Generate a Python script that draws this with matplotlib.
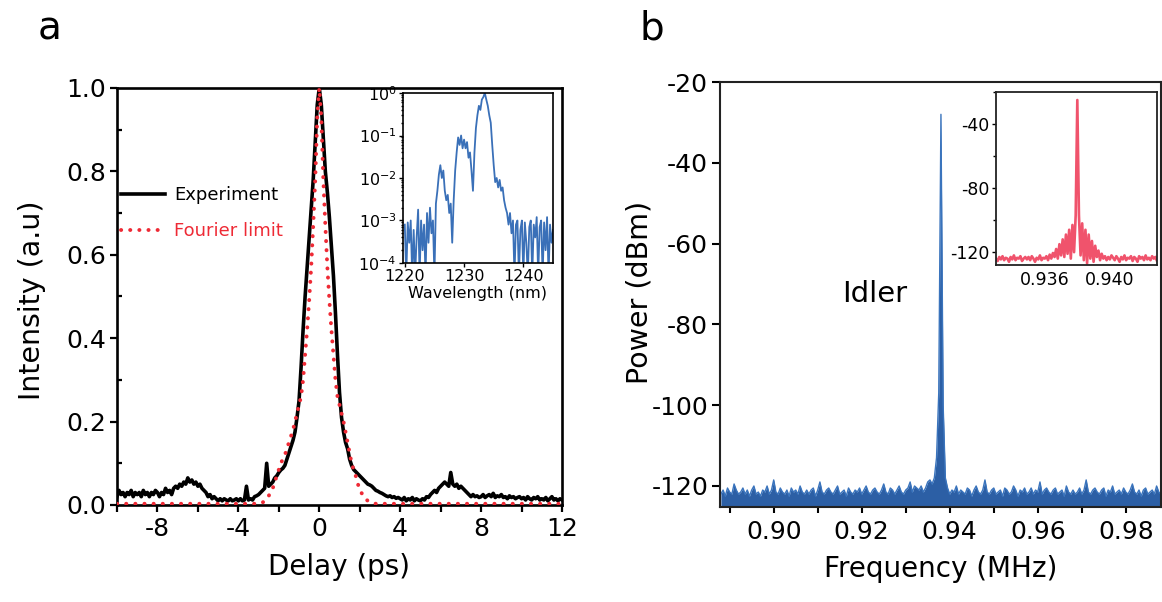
import numpy as np
import matplotlib
matplotlib.use("Agg")
import matplotlib.pyplot as plt
from matplotlib.ticker import MultipleLocator, FormatStrFormatter, LogLocator, NullFormatter

plt.rcParams['font.family'] = ['DejaVu Sans']
plt.rcParams['axes.unicode_minus'] = False

# ---------------- Panel a data ----------------
delay_ps = np.round(np.linspace(-10, 12, 221), 2)
intensity = [
    0.02, 0.035, 0.025, 0.03, 0.02, 0.03, 0.025, 0.035, 0.02, 0.03,
    0.025, 0.03, 0.02, 0.035, 0.025, 0.03, 0.02, 0.03, 0.025, 0.035,
    0.03, 0.02, 0.03, 0.025, 0.04, 0.03, 0.035, 0.025, 0.04, 0.045,
    0.04, 0.05, 0.045, 0.055, 0.05, 0.065, 0.055, 0.06, 0.05, 0.055,
    0.045, 0.05, 0.04, 0.035, 0.03, 0.02, 0.025, 0.015, 0.02, 0.015,
    0.01, 0.015, 0.01, 0.015, 0.012, 0.01, 0.015, 0.01, 0.012, 0.015,
    0.01, 0.015, 0.01, 0.012, 0.045, 0.012, 0.015, 0.012, 0.02, 0.022,
    0.025, 0.03, 0.035, 0.04, 0.1, 0.045, 0.05, 0.055, 0.065, 0.07,
    0.078, 0.084, 0.088, 0.095, 0.11, 0.125, 0.14, 0.155, 0.175, 0.21,
    0.25, 0.33, 0.42, 0.5, 0.57, 0.64, 0.71, 0.78, 0.87, 0.96,
    1.0, 0.96, 0.88, 0.8, 0.75, 0.69, 0.62, 0.55, 0.46, 0.36,
    0.27, 0.21, 0.175, 0.15, 0.135, 0.11, 0.095, 0.085, 0.08, 0.075,
    0.07, 0.065, 0.06, 0.055, 0.05, 0.048, 0.045, 0.04, 0.035, 0.033,
    0.03, 0.028, 0.025, 0.022, 0.02, 0.022, 0.018, 0.02, 0.016, 0.018,
    0.015, 0.012, 0.018, 0.01, 0.015, 0.012, 0.018, 0.01, 0.015, 0.012,
    0.01, 0.015, 0.012, 0.02, 0.018, 0.025, 0.03, 0.035, 0.03, 0.04,
    0.045, 0.05, 0.055, 0.05, 0.045, 0.078, 0.05, 0.045, 0.05, 0.04,
    0.045, 0.04, 0.035, 0.03, 0.025, 0.02, 0.025, 0.02, 0.022, 0.018,
    0.02, 0.025, 0.018, 0.022, 0.025, 0.02, 0.028, 0.018, 0.022, 0.02,
    0.025, 0.018, 0.02, 0.015, 0.022, 0.018, 0.02, 0.015, 0.018, 0.02,
    0.015, 0.018, 0.012, 0.02, 0.015, 0.012, 0.018, 0.015, 0.02, 0.012,
    0.015, 0.012, 0.018, 0.01, 0.015, 0.02, 0.012, 0.015, 0.01, 0.015,
    0.012,
]

fourier_delay = [-10.0] + list(np.round(np.linspace(-3, 3, 61), 2)) + [12.0]
fourier_intensity = [
    0.003,
    0.003, 0.004, 0.006, 0.01, 0.015, 0.022, 0.03, 0.04, 0.055, 0.07,
    0.085, 0.1, 0.11, 0.12, 0.135, 0.15, 0.165, 0.18, 0.2, 0.22,
    0.24, 0.26, 0.3, 0.36, 0.42, 0.49, 0.57, 0.67, 0.78, 0.93,
    1.0,
    0.93, 0.78, 0.67, 0.57, 0.49, 0.42, 0.36, 0.3, 0.26, 0.24,
    0.22, 0.2, 0.175, 0.15, 0.125, 0.1, 0.085, 0.07, 0.052, 0.036,
    0.028, 0.02, 0.014, 0.01, 0.007, 0.005, 0.004, 0.003, 0.003, 0.003,
    0.003,
]

wavelength_nm = np.round(np.linspace(1220, 1245, 101), 2)
spectrum = [
    8e-4, 5e-5, 9e-4, 3e-4,
    1e-3, 5e-5, 6e-4, 5e-5,
    4e-4, 1.8e-3, 5e-5, 1e-3,
    2e-4, 8e-4, 5e-5, 1.5e-3,
    3e-4, 2e-3, 5e-4, 1e-3,
    5e-5, 2.5e-3, 5e-3, 1.2e-2,
    2e-2, 1e-2, 1.5e-2, 5e-3,
    3e-3, 4e-3, 1.5e-3, 2.5e-3,
    3e-4, 3e-3, 1.5e-2, 4e-2,
    9e-2, 6e-2, 1e-1, 5e-2,
    8e-2, 5e-2, 7e-2, 3e-2,
    4e-2, 1.5e-2, 5e-3, 4e-2,
    1.5e-1, 3e-1, 5e-1, 4e-1,
    7e-1, 8e-1, 1.0, 7e-1,
    5e-1, 3e-1, 2e-1, 6e-2,
    2e-2, 8e-3, 1e-2, 6e-3,
    9e-3, 5e-3, 6e-3, 3e-3,
    2e-3, 1.5e-3, 8e-4, 1.5e-3,
    5e-4, 1e-3, 5e-5, 8e-4,
    1e-3, 5e-5, 6e-4, 1e-3,
    5e-5, 9e-4, 3e-4, 5e-5,
    7e-4, 1e-3, 5e-5, 8e-4,
    4e-4, 1.2e-3, 5e-5, 7e-4,
    1e-3, 5e-5, 9e-4, 2e-4,
    1.2e-3, 5e-5, 8e-4, 3e-4,
    6e-4,
]

# ---------------- Panel b data ----------------
freq_mhz = np.round(np.linspace(0.888, 0.988, 201), 5)
power_dbm = [
    -122, -121, -122.5, -120.5, -121.5, -122, -119.5, -121, -122, -121.5,
    -120.5, -122, -121, -122.5, -121, -120, -122, -121.5, -122.5, -121,
    -121.5, -120, -122, -121, -118.5, -121.5, -122, -120.5, -121.5, -122,
    -121, -122.5, -120.5, -121.5, -121, -122, -120, -121.5, -122, -121,
    -122, -121, -120.5, -122.5, -121, -119, -121.5, -122, -121, -120.5,
    -121.5, -122, -121, -120, -122, -121.5, -121, -122.5, -120.5, -121.5,
    -122, -121, -121.5, -120.5, -122, -121, -120, -121.5, -122, -121,
    -120.5, -121.5, -122, -121, -119.5, -121.5, -122, -120.5, -121, -122,
    -121, -120, -121.5, -122, -121, -120.5, -119, -121.5, -120, -120.5,
    -121, -120, -121.5, -120.5, -119, -118.5, -119.5, -118, -113, -97,
    -28, -100, -118, -120.5, -122, -121, -121.5, -120, -122, -121,
    -121.5, -122, -120.5, -121, -122.5, -121, -120, -121.5, -122, -121,
    -118.5, -121.5, -122, -121, -120.5, -122, -121.5, -121, -122.5, -120.5,
    -121, -122, -121.5, -120, -121, -122.5, -121, -121.5, -120.5, -122,
    -121.5, -120.5, -122, -121, -121.5, -119, -122, -121, -120.5, -121.5,
    -122, -121, -120.5, -122, -121.5, -121, -122.5, -120, -121.5, -122,
    -121, -122, -121.5, -120.5, -122, -121, -118.5, -121.5, -122, -121,
    -120.5, -121.5, -122, -121, -120.5, -122.5, -121, -121.5, -120, -122,
    -121.5, -121, -122, -120.5, -121.5, -122, -121, -119.5, -121.5, -122,
    -121, -122.5, -121, -120.5, -122, -121.5, -121, -122, -120, -121.5,
    -122,
]

zoom_freq_mhz = np.round(np.linspace(0.933, 0.943, 101), 5)
zoom_power_dbm = [
    -124, -125.5, -123, -124.5, -122.5, -125, -123.5, -124, -126, -123,
    -124.5, -122, -125, -123.5, -124, -122.5, -125.5, -124, -123, -124.5,
    -123, -125, -122.5, -124, -126, -123.5, -124.5, -122, -125, -123.5,
    -124, -122.5, -125, -121.5, -124, -120.5,
    -123, -118, -124, -115, -122, -112, -123, -109, -121, -106, -124, -103, -120, -97,
    -25,
    -97, -122, -102, -125, -106, -127, -109, -124, -113, -126, -116, -123, -119, -125, -121,
    -124, -122.5, -125, -123,
    -124.5, -122, -123.5, -125, -122.5, -124, -126, -123, -124.5, -122,
    -125, -123.5, -124, -122.5, -125.5, -123, -124, -126, -122.5, -124,
    -123, -125, -122, -124.5, -123.5, -125, -122.5, -124, -123, -125.5, -124,
]

idler_label = "Idler"

# ---------------- Figure ----------------
W, H = 1162, 602
fig = plt.figure(figsize=(W / 100, H / 100), dpi=100)

def frac(l, t, r, b):
    return [l / W, 1 - b / H, (r - l) / W, (b - t) / H]

# Panel a
axA = fig.add_axes(frac(117, 88, 562, 505))
axA.plot(delay_ps, intensity, color='black', lw=2.6,
         label='Experiment', zorder=3)
axA.plot(fourier_delay, fourier_intensity, color='#ee2a35', lw=2.8,
         linestyle=(0, (0.05, 2.3)), dash_capstyle='round',
         label='Fourier limit', zorder=4)
axA.set_xlim(-10, 12)
axA.set_ylim(0, 1.0)
axA.xaxis.set_major_locator(MultipleLocator(4))
axA.xaxis.set_minor_locator(MultipleLocator(2))
axA.yaxis.set_major_locator(MultipleLocator(0.2))
axA.yaxis.set_minor_locator(MultipleLocator(0.1))
axA.yaxis.set_major_formatter(FormatStrFormatter('%.1f'))
axA.tick_params(which='both', labelsize=18, width=1.6, direction='out')
axA.tick_params(axis='x', which='major', length=5, pad=4)
axA.tick_params(axis='x', which='minor', length=5)
axA.tick_params(axis='y', which='major', length=5, pad=3)
axA.tick_params(axis='y', which='minor', length=3.5, direction='in')
for s in axA.spines.values():
    s.set_linewidth(1.9)
axA.set_xlabel('Delay (ps)', fontsize=20, labelpad=8)
axA.set_ylabel('Intensity (a.u)', fontsize=20.5)
axA.yaxis.set_label_coords(-0.16, 0.49)
leg = axA.legend(loc='upper left', bbox_to_anchor=(0.01, 0.765), frameon=False,
                 fontsize=13, handlelength=2.4, handletextpad=0.5,
                 labelspacing=1.0, borderpad=0, borderaxespad=0,
                 labelcolor='linecolor')

# Inset a
axAi = fig.add_axes(frac(403, 93, 553, 263))
axAi.plot(wavelength_nm, spectrum, color='#3a70b8', lw=1.3)
axAi.set_yscale('log')
axAi.set_ylim(1e-4, 1)
axAi.set_xlim(1219.7, 1245)
axAi.xaxis.set_major_locator(MultipleLocator(10))
axAi.yaxis.set_major_locator(LogLocator(base=10, numticks=6))
axAi.yaxis.set_minor_locator(LogLocator(base=10, subs=np.arange(2, 10), numticks=12))
axAi.yaxis.set_minor_formatter(NullFormatter())
axAi.tick_params(which='both', labelsize=11.5, direction='out', width=1.0, pad=1.5)
axAi.tick_params(which='major', length=3)
axAi.tick_params(which='minor', length=1.5)
for s in axAi.spines.values():
    s.set_linewidth(1.2)
axAi.set_xlabel('Wavelength (nm)', fontsize=11.5, labelpad=1)

# Panel b
axB = fig.add_axes(frac(720, 82, 1161, 507))
axB.fill_between(freq_mhz, power_dbm, -130, color='#2c5fa5', lw=0)
axB.plot(freq_mhz, power_dbm, color='#3a74bd', lw=1.0)
axB.set_xlim(0.8878, 0.988)
axB.set_ylim(-125.2, -20)
axB.xaxis.set_major_locator(MultipleLocator(0.02))
axB.xaxis.set_minor_locator(MultipleLocator(0.01))
axB.xaxis.set_major_formatter(FormatStrFormatter('%.2f'))
axB.yaxis.set_major_locator(MultipleLocator(20))
axB.yaxis.set_major_formatter(FormatStrFormatter('%d'))
axB.tick_params(which='both', labelsize=18, width=1.5, direction='out')
axB.tick_params(axis='x', which='both', length=4.5, pad=5)
axB.tick_params(axis='y', which='major', length=5.5, pad=3)
for s in axB.spines.values():
    s.set_linewidth(1.5)
    s.set_color('#222222')
axB.set_xlabel('Frequency (MHz)', fontsize=20, labelpad=8)
axB.set_ylabel('Power (dBm)', fontsize=20.5)
axB.yaxis.set_label_coords(-0.15, 0.505)
axB.text(0.9229, -72.5, idler_label, fontsize=21, ha='center', va='center')

# Inset b
axBi = fig.add_axes(frac(996, 92, 1157, 265))
axBi.plot(zoom_freq_mhz, zoom_power_dbm, color='#f0536c', lw=1.9)
axBi.set_xlim(0.933, 0.9429)
axBi.set_ylim(-128, -20)
axBi.xaxis.set_major_locator(MultipleLocator(0.004))
axBi.xaxis.set_major_formatter(FormatStrFormatter('%.3f'))
axBi.yaxis.set_major_locator(MultipleLocator(40))
axBi.yaxis.set_minor_locator(MultipleLocator(20))
axBi.yaxis.set_major_formatter(FormatStrFormatter('%d'))
axBi.tick_params(which='both', labelsize=12.5, direction='out', width=1.0, pad=2)
axBi.tick_params(which='major', length=3)
axBi.tick_params(which='minor', length=2)
axBi.tick_params(axis='x', length=0, pad=4)
for s in axBi.spines.values():
    s.set_linewidth(1.3)
    s.set_color('#222222')

# Panel letters
fig.text(50 / W, 1 - 28 / H, 'a', fontsize=28, ha='center', va='center')
fig.text(652 / W, 1 - 28 / H, 'b', fontsize=28, ha='center', va='center')

fig.savefig('out.png', dpi=100)
